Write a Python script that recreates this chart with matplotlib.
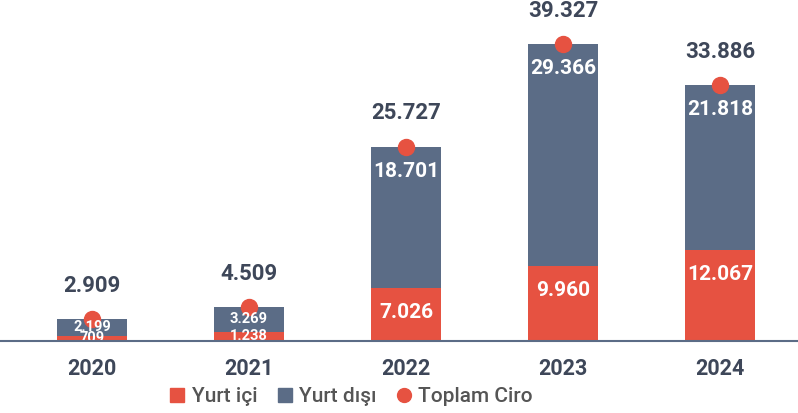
import matplotlib.pyplot as plt
from matplotlib.lines import Line2D

plt.rcParams['font.family'] = ['Roboto', 'DejaVu Sans']

years = ['2020', '2021', '2022', '2023', '2024']
yurt_ici = [709, 1238, 7026, 9960, 12067]
yurt_disi = [2199, 3269, 18701, 29366, 21818]
toplam = [2909, 4509, 25727, 39327, 33886]

red = '#E65241'
blue = '#5B6C86'
dark = '#3E4759'


def fmt(v):
    return f'{v:,}'.replace(',', '.')


fig = plt.figure(figsize=(7.98, 4.13), dpi=100)
ax = fig.add_axes([0, 1 - 341 / 413, 1, 341 / 413])
x = list(range(len(years)))

ax.bar(x, yurt_ici, width=0.45, color=red, zorder=2)
ax.bar(x, yurt_disi, width=0.45, bottom=yurt_ici, color=blue, zorder=2)
ax.plot(x, toplam, 'o', color=red, markersize=11.5, zorder=3, clip_on=False)

for i in x:
    # segment labels
    for bottom, val in ((0, yurt_ici[i]), (yurt_ici[i], yurt_disi[i])):
        if val < 5000:
            ax.text(i, bottom + val / 2, fmt(val), ha='center', va='center',
                    color='white', fontsize=10.5, fontweight='bold', zorder=4,
                    clip_on=True)
        else:
            ax.annotate(fmt(val), (i, bottom + val), xytext=(0, -17.5),
                        textcoords='offset points', ha='center', va='center',
                        color='white', fontsize=15, fontweight='bold', zorder=4)
    ax.annotate(fmt(toplam[i]), (i, toplam[i]), xytext=(0, 24),
                textcoords='offset points', ha='center', va='center',
                color=dark, fontsize=16, fontweight='bold', annotation_clip=False)

ax.set_xlim(-92 / 157, (798 - 92) / 157)
ax.set_ylim(0, 341 / (297 / 39327))
ax.set_xticks(x)
ax.set_xticklabels(years, fontsize=15.5, fontweight='bold', color=dark)
ax.tick_params(axis='x', length=0, pad=12)
ax.set_yticks([])
for s in ['top', 'right', 'left']:
    ax.spines[s].set_visible(False)
ax.spines['bottom'].set_color(blue)
ax.spines['bottom'].set_linewidth(1.5)
ax.spines['bottom'].set_zorder(5)

handles = [
    Line2D([], [], marker='s', linestyle='', color=red, markersize=10),
    Line2D([], [], marker='s', linestyle='', color=blue, markersize=10),
    Line2D([], [], marker='o', linestyle='', color=red, markersize=10),
]
leg = fig.legend(handles, ['Yurt içi', 'Yurt dışı', 'Toplam Ciro'],
                 loc='center', bbox_to_anchor=(351 / 798, 1 - 397 / 413),
                 ncol=3, frameon=False, fontsize=15, handlelength=0.8,
                 handletextpad=0.3, columnspacing=0.9)
for t in leg.get_texts():
    t.set_color('#555555')
    t.set_fontweight('medium')

fig.savefig('out.png', dpi=100)
